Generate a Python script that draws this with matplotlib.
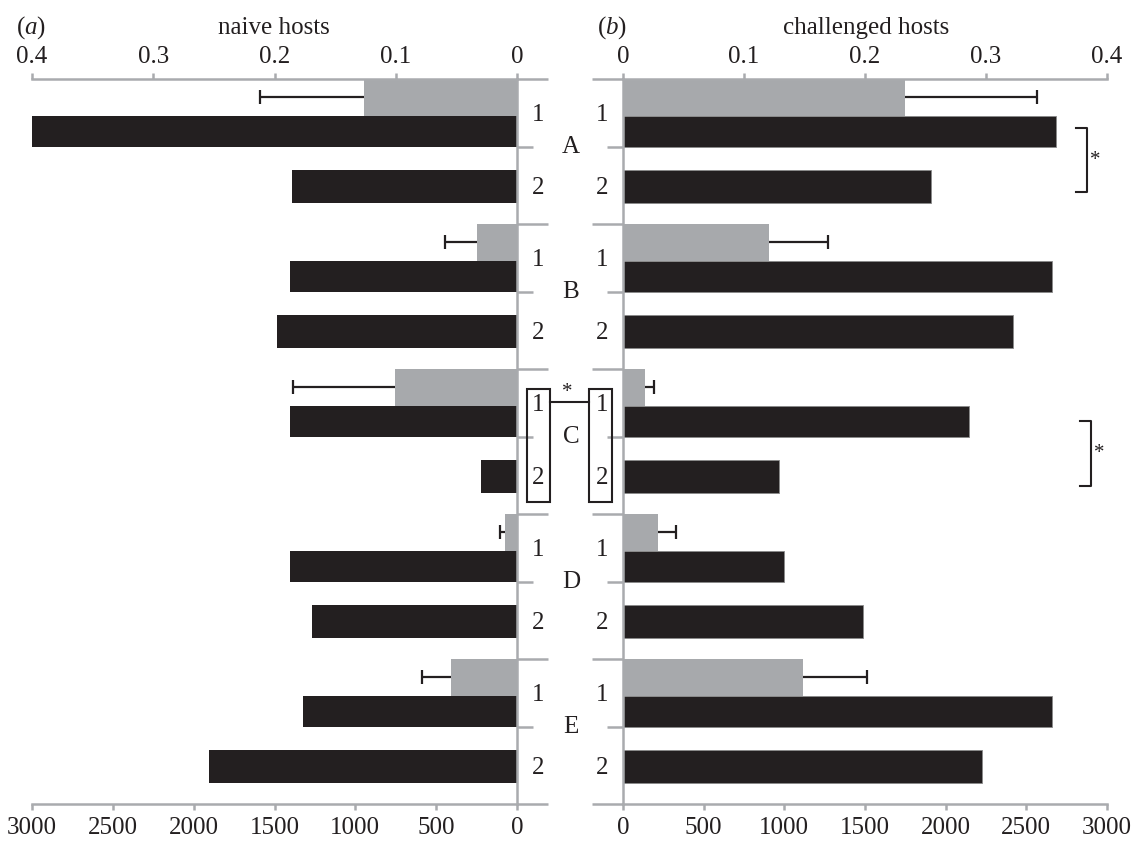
import matplotlib
matplotlib.use('Agg')
import matplotlib.pyplot as plt
from matplotlib.transforms import blended_transform_factory as btf
from matplotlib.patches import Rectangle
from matplotlib.lines import Line2D
import numpy as np

plt.rcParams['font.family'] = ['Liberation Serif', 'DejaVu Serif']
plt.rcParams['mathtext.fontset'] = 'custom'
plt.rcParams['mathtext.rm'] = 'Liberation Serif'
plt.rcParams['mathtext.it'] = 'Liberation Serif:italic'

# ---------------- data ----------------
groups = ['A', 'B', 'C', 'D', 'E']
rows = ['1', '2']
naive_counts = [3000, 1394, 1406, 1487, 1406, 220, 1406, 1270, 1326, 1907]
challenged_counts = [2683, 1907, 2658, 2419, 2143, 970, 997, 1485, 2658, 2224]
naive_prop = [0.126, 0.033, 0.101, 0.010, 0.0545]
naive_err = [0.086, 0.0265, 0.084, 0.004, 0.024]
chall_prop = [0.233, 0.1205, 0.0184, 0.0291, 0.1485]
chall_err = [0.109, 0.049, 0.0071, 0.0143, 0.053]
prop_ticks = [0, 0.1, 0.2, 0.3, 0.4]
prop_labels = ['0', '0.1', '0.2', '0.3', '0.4']
count_ticks = [0, 500, 1000, 1500, 2000, 2500, 3000]
count_labels = [str(t) for t in count_ticks]

BLACK = '#231f20'
GREY = '#a7a9ac'
AXG = '#a9abae'
FS = 18

W, H = 1133, 843
fig = plt.figure(figsize=(W / 100, H / 100), dpi=100)


def fx(px):
    return px / W


def fy(py):
    return 1 - py / H


ax1 = fig.add_axes([fx(32), fy(804), fx(517) - fx(32), fy(79) - fy(804)])
ax2 = fig.add_axes([fx(623), fy(804), fx(1107) - fx(623), fy(79) - fy(804)])

# layout of rows within each group (group spans 2 units)
gidx = np.repeat(np.arange(len(groups)), 2) * 2.0
kidx = np.tile(np.arange(2), len(groups))
black_y = gidx + np.where(kidx == 0, 0.725, 1.4825)
black_h = np.where(kidx == 0, 0.43, 0.455)
grey_y = np.arange(len(groups)) * 2.0 + 0.255
grey_h = 0.51


def setup(ax, invert, side):
    axt = ax.twiny()
    ax.set_ylim(10, 0)
    if invert:
        ax.set_xlim(3000, 0)
        axt.set_xlim(0.4, 0)
    else:
        ax.set_xlim(0, 3000)
        axt.set_xlim(0, 0.4)
    for a in (ax, axt):
        a.set_facecolor('none')
        for s in a.spines.values():
            s.set_visible(False)
    for s in (ax.spines['bottom'], axt.spines['top'], ax.spines[side]):
        s.set_visible(True)
        s.set_color(AXG)
        s.set_linewidth(1.8)
    ax.set_xticks(count_ticks)
    ax.set_xticklabels(count_labels)
    axt.set_xticks(prop_ticks)
    axt.set_xticklabels(prop_labels)
    ax.tick_params(axis='x', which='major', direction='out', length=4, width=1.8,
                   color=AXG, labelsize=FS, pad=5, labelcolor='#231f20')
    axt.tick_params(axis='x', which='major', direction='out', length=4, width=1.8,
                    color=AXG, labelsize=FS, pad=4, labelcolor='#231f20')
    ax.yaxis.set_ticks_position(side)
    ax.set_yticks(np.arange(0, 11, 2))
    ax.set_yticklabels([])
    ax.set_yticks(np.arange(len(groups)) * 2 + 0.94, minor=True)
    ax.tick_params(axis='y', which='major', direction='out', length=22.3, width=1.8, color=AXG)
    ax.tick_params(axis='y', which='minor', direction='out', length=11.5, width=1.8, color=AXG)
    ax.set_ylim(10, 0)
    return axt


ax1t = setup(ax1, True, 'right')
ax2t = setup(ax2, False, 'left')

# bars
ax1.barh(black_y, naive_counts, height=black_h, color=BLACK, linewidth=0)
ax2.barh(black_y, challenged_counts, height=black_h, color=BLACK,
         edgecolor='#8a8a8a', linewidth=0.6)
ax1t.barh(grey_y, naive_prop, height=grey_h, color=GREY, linewidth=0)
ax2t.barh(grey_y, chall_prop, height=grey_h, color=GREY, linewidth=0)

# one-sided error bars
for axt, m, e in ((ax1t, naive_prop, naive_err), (ax2t, chall_prop, chall_err)):
    m = np.array(m)
    e = np.array(e)
    axt.hlines(grey_y, m, m + e, color=BLACK, linewidth=1.6, zorder=4)
    axt.plot(m + e, grey_y, linestyle='none', marker='|', markersize=9.5,
             markeredgewidth=1.6, color=BLACK, zorder=4)

# row / group labels
tr1 = btf(fig.transFigure, ax1.transData)
for i in range(len(groups)):
    for k in range(2):
        y = 2 * i + 0.5 + k
        fig.text(fx(538), y, rows[k], transform=tr1, ha='center', va='center',
                 fontsize=FS, color=BLACK)
        fig.text(fx(602), y, rows[k], transform=tr1, ha='center', va='center',
                 fontsize=FS, color=BLACK)
    fig.text(fx(571), 2 * i + 0.94, groups[i], transform=tr1, ha='center',
             va='center', fontsize=FS, color=BLACK)

# boxes around group C labels and significance link
cg = 2 * groups.index('C')
for x0, x1 in ((527, 550), (589, 612)):
    fig.add_artist(Rectangle((fx(x0), cg + 0.276), fx(x1) - fx(x0), 1.558,
                             transform=tr1, fill=False, edgecolor=BLACK, linewidth=1.5))
fig.add_artist(Line2D([fx(550), fx(589)], [cg + 0.455, cg + 0.455], transform=tr1,
                      color=BLACK, linewidth=1.5))
fig.text(fx(567), cg + 0.32, '*', transform=tr1, ha='center', va='center',
         fontsize=15, color=BLACK)

# brackets on right panel
tr2 = btf(ax2.transAxes, ax2.transData)
for (xa, xv, y0, y1, xs, ys) in ((0.936, 0.959, 0.672, 1.563, 0.976, 1.12),
                                   (0.944, 0.967, 4.713, 5.61, 0.984, 5.17)):
    fig.add_artist(Line2D([xa, xv, xv, xa], [y0, y0, y1, y1], transform=tr2,
                          color=BLACK, linewidth=1.5))
    fig.text(xs, ys, '*', transform=tr2, ha='center', va='center', fontsize=15,
             color=BLACK)

# panel titles
fig.text(fx(16), fy(28), r'($\mathit{a}$)', ha='left', va='center', fontsize=FS, color=BLACK)
fig.text(fx(274), fy(28), 'naive hosts', ha='center', va='center', fontsize=FS, color=BLACK)
fig.text(fx(597), fy(28), r'($\mathit{b}$)', ha='left', va='center', fontsize=FS, color=BLACK)
fig.text(fx(866), fy(28), 'challenged hosts', ha='center', va='center', fontsize=FS, color=BLACK)

fig.savefig('out.png', dpi=100)
